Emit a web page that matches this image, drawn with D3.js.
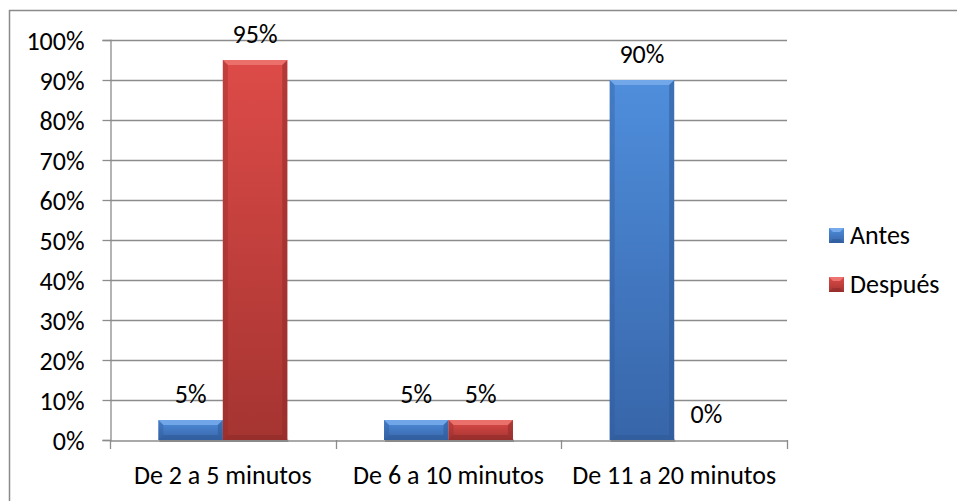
<!DOCTYPE html>
<html>
<head>
<meta charset="utf-8">
<script src="https://cdn.jsdelivr.net/npm/d3@7"></script>
<style>
  html, body { margin: 0; padding: 0; background: #fff; }
  svg { display: block; font-family: Carlito, Calibri, Lato, sans-serif; }
</style>
</head>
<body>
<svg id="chart" width="957" height="501"></svg>
<script>
// Tiempo de espera: antes y después
const categories = ["De 2 a 5 minutos", "De 6 a 10 minutos", "De 11 a 20 minutos"];
const seriesNames = ["Antes", "Después"];
const antes = [0.05, 0.05, 0.90];
const despues = [0.95, 0.05, 0.00];
const yTicks = [0, 0.1, 0.2, 0.3, 0.4, 0.5, 0.6, 0.7, 0.8, 0.9, 1.0];

const FONT = "Carlito, Calibri, Lato, sans-serif";
const FS = 26;

const palette = {
  "Antes":   { top: "#4f8edc", bottom: "#3765a9", light: "#76aaea", dark: "#2f5a98" },
  "Después": { top: "#dd4b48", bottom: "#a53431", light: "#ec7470", dark: "#8f2c2a" }
};

const svg = d3.select("#chart");
const W = 957, H = 501;
const plot = { left: 110, right: 787, top: 40, bottom: 440 };

// Outer frame
svg.append("path")
  .attr("d", `M9.5,${H} V10.5 H${W}`)
  .attr("fill", "none").attr("stroke", "#8a8a8a").attr("stroke-width", 1.5);

const x0 = d3.scaleBand().domain(categories).range([plot.left, plot.right]).paddingInner(0).paddingOuter(0);
const y = d3.scaleLinear().domain([0, 1]).range([plot.bottom, plot.top]);
// gap width 150%: two bars take 2/3.5 of each category
const groupW = x0.bandwidth() * 2 / 3.5;
const x1 = d3.scaleBand().domain(seriesNames).range([0, groupW]).padding(0);

// Gradients
const defs = svg.append("defs");
seriesNames.forEach((s, i) => {
  const g = defs.append("linearGradient").attr("id", "grad" + i)
    .attr("x1", 0).attr("y1", 0).attr("x2", 0).attr("y2", 1);
  g.append("stop").attr("offset", "0%").attr("stop-color", palette[s].top);
  g.append("stop").attr("offset", "100%").attr("stop-color", palette[s].bottom);
});

// Gridlines
svg.append("g")
  .selectAll("line").data(yTicks.filter(d => d > 0)).join("line")
  .attr("x1", plot.left).attr("x2", plot.right)
  .attr("y1", d => Math.round(y(d)) + 0.5).attr("y2", d => Math.round(y(d)) + 0.5)
  .attr("stroke", "#8c8c8c").attr("stroke-width", 1.3);

// Y axis
const yAxis = svg.append("g").attr("transform", `translate(${plot.left + 0.5},0)`)
  .call(d3.axisLeft(y).tickValues(yTicks).tickFormat(d3.format(".0%")).tickSize(8).tickPadding(18));
yAxis.select(".domain").attr("stroke", "#8c8c8c").attr("stroke-width", 1.3);
yAxis.selectAll(".tick line").attr("stroke", "#8c8c8c").attr("stroke-width", 1.3);
yAxis.selectAll(".tick text").attr("font-size", FS).attr("fill", "#000")
  .attr("font-family", FONT).attr("dy", "0.35em");

// X axis
const xAxis = svg.append("g").attr("transform", `translate(0,${plot.bottom + 0.5})`)
  .call(d3.axisBottom(x0).tickSize(0));
xAxis.select(".domain").attr("stroke", "#8c8c8c").attr("stroke-width", 1.3);
xAxis.selectAll(".tick text").attr("font-size", FS).attr("fill", "#000")
  .attr("font-family", FONT).attr("y", 43).attr("dy", 0);
// tick marks at category boundaries
svg.append("g").selectAll("line")
  .data(categories.map(c => x0(c)).concat([plot.right]))
  .join("line")
  .attr("x1", d => Math.round(d) + 0.5).attr("x2", d => Math.round(d) + 0.5)
  .attr("y1", plot.bottom).attr("y2", plot.bottom + 9)
  .attr("stroke", "#8c8c8c").attr("stroke-width", 1.3);

// Bars
const rows = categories.map((c, i) => ({ cat: c, values: [antes[i], despues[i]] }));
const groups = svg.append("g").selectAll("g").data(rows).join("g")
  .attr("transform", d => `translate(${x0(d.cat) + (x0.bandwidth() - groupW) / 2},0)`);

groups.each(function (row) {
  const g = d3.select(this);
  row.values.forEach((v, i) => {
    const s = seriesNames[i];
    const bx = x1(s), bw = x1.bandwidth();
    const by = y(v), bh = y(0) - y(v);
    if (bh > 0) {
      const p = palette[s];
      const b = Math.min(5, bh / 2);
      // soft shadow below
      g.append("rect").attr("x", bx + 1).attr("y", y(0) - 1).attr("width", bw).attr("height", 3)
        .attr("fill", "#000").attr("opacity", 0.18);
      g.append("rect").attr("x", bx).attr("y", by).attr("width", bw).attr("height", bh)
        .attr("fill", `url(#grad${i})`);
      // bevel: light top, darker sides and bottom
      g.append("path")
        .attr("d", `M${bx},${by} H${bx + bw} L${bx + bw - b},${by + b} H${bx + b} Z`)
        .attr("fill", p.light).attr("opacity", 0.9);
      g.append("path")
        .attr("d", `M${bx},${by} L${bx + b},${by + b} V${by + bh - b} L${bx},${by + bh} Z`)
        .attr("fill", p.dark).attr("opacity", 0.35);
      g.append("path")
        .attr("d", `M${bx + bw},${by} L${bx + bw - b},${by + b} V${by + bh - b} L${bx + bw},${by + bh} Z`)
        .attr("fill", p.dark).attr("opacity", 0.55);
      g.append("path")
        .attr("d", `M${bx},${by + bh} L${bx + b},${by + bh - b} H${bx + bw - b} L${bx + bw},${by + bh} Z`)
        .attr("fill", p.dark).attr("opacity", 0.6);
    }
    // value label
    g.append("text")
      .attr("x", bx + bw / 2).attr("y", y(v) - 17)
      .attr("text-anchor", "middle").attr("font-size", FS).attr("fill", "#000")
      .attr("font-family", FONT)
      .text(d3.format(".0%")(v));
  });
});

// Legend
const legend = svg.append("g").selectAll("g").data(seriesNames).join("g")
  .attr("transform", (d, i) => `translate(829,${228 + i * 49})`);
legend.each(function (s, i) {
  const g = d3.select(this);
  const p = palette[s];
  g.append("rect").attr("width", 15).attr("height", 15).attr("fill", `url(#grad${i})`);
  g.append("path").attr("d", "M0,0 H15 L11,4 H4 Z").attr("fill", p.light);
  g.append("path").attr("d", "M0,15 L4,11 H11 L15,15 Z").attr("fill", p.dark).attr("opacity", 0.6);
  g.append("text").attr("x", 21).attr("y", 15.5).attr("font-size", FS).attr("fill", "#000")
    .attr("font-family", FONT).text(s);
});
</script>
</body>
</html>
